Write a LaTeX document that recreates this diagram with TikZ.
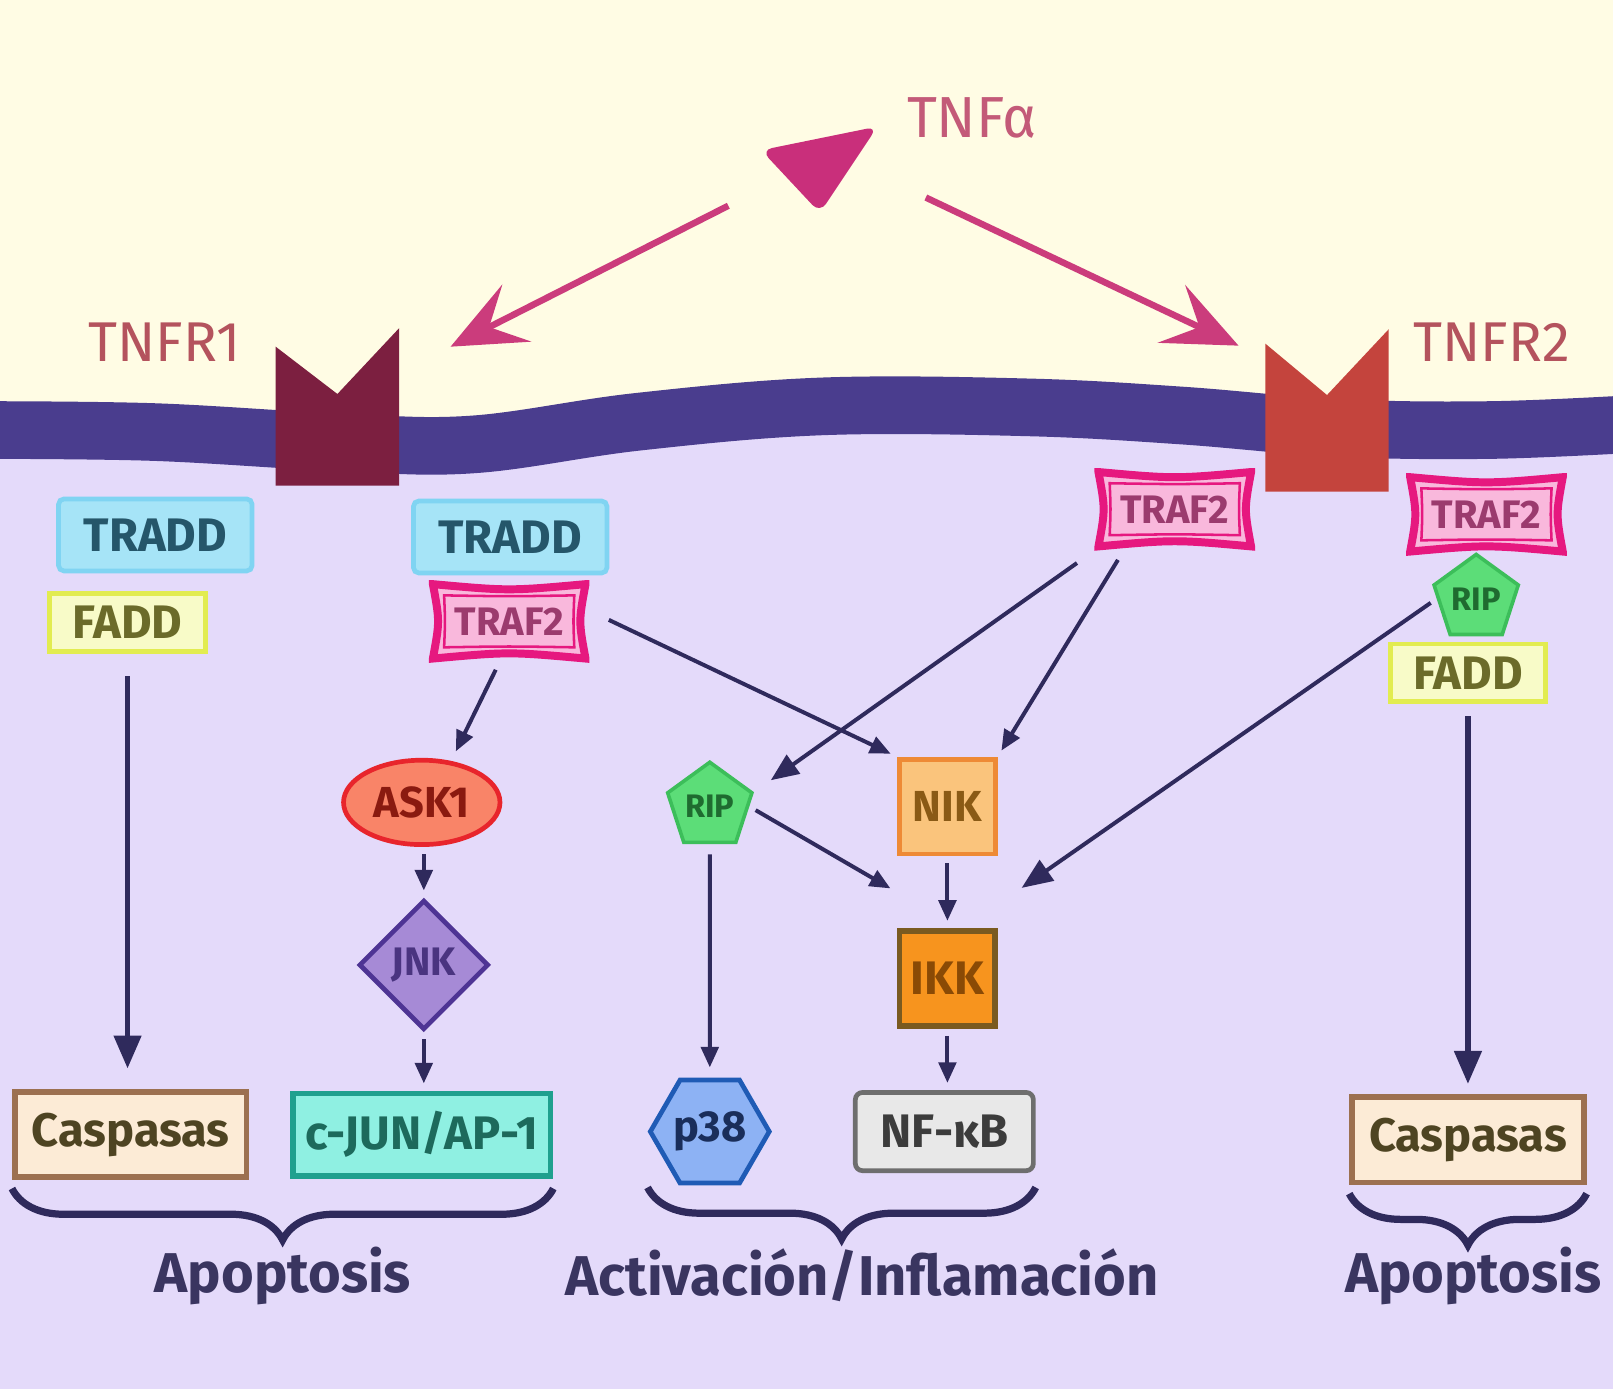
\documentclass[tikz,border=0pt]{standalone}
\usepackage{fontspec}
\setmainfont{Fira Sans}
\usetikzlibrary{arrows.meta,shapes.geometric,decorations.pathreplacing,calc}

% Colours
\definecolor{cream}{HTML}{FFFCE4}
\definecolor{lavender}{HTML}{E4DAFA}
\definecolor{membrane}{HTML}{4A3D8E}
\definecolor{linecol}{HTML}{2F2A5C}
\definecolor{pinkarrow}{HTML}{CB3C7C}
\definecolor{ligand}{HTML}{C92F7B}
\definecolor{recepA}{HTML}{7C1F40}
\definecolor{recepB}{HTML}{C4443D}
\definecolor{recText}{HTML}{B4535D}
\definecolor{tnfText}{HTML}{C35A78}
\definecolor{fateText}{HTML}{3A3560}
\definecolor{traddFill}{HTML}{A6E4F7}
\definecolor{traddLine}{HTML}{80D4F2}
\definecolor{traddText}{HTML}{25566A}
\definecolor{faddFill}{HTML}{F8FBC8}
\definecolor{faddLine}{HTML}{E2EC50}
\definecolor{faddText}{HTML}{6B6B2A}
\definecolor{trafFill}{HTML}{F9B8DC}
\definecolor{trafLine}{HTML}{E6187F}
\definecolor{trafText}{HTML}{9B3B6E}
\definecolor{ripFill}{HTML}{5CDD78}
\definecolor{ripLine}{HTML}{3CBE5A}
\definecolor{ripText}{HTML}{1F6B30}
\definecolor{askFill}{HTML}{F98468}
\definecolor{askLine}{HTML}{E8252C}
\definecolor{askText}{HTML}{8A1A10}
\definecolor{jnkFill}{HTML}{A68AD6}
\definecolor{jnkLine}{HTML}{4E3494}
\definecolor{jnkText}{HTML}{4A3480}
\definecolor{nikFill}{HTML}{FAC47C}
\definecolor{nikLine}{HTML}{EE8A35}
\definecolor{nikText}{HTML}{8A5A15}
\definecolor{ikkFill}{HTML}{F7941E}
\definecolor{ikkLine}{HTML}{7A5A20}
\definecolor{ikkText}{HTML}{8A4A05}
\definecolor{caspFill}{HTML}{FCEBD6}
\definecolor{caspLine}{HTML}{9C7050}
\definecolor{caspText}{HTML}{4E4422}
\definecolor{cjunFill}{HTML}{8FF0E2}
\definecolor{cjunLine}{HTML}{1FA08E}
\definecolor{cjunText}{HTML}{1D6A5C}
\definecolor{pFill}{HTML}{8DB2F4}
\definecolor{pLine}{HTML}{1F5BB5}
\definecolor{pText}{HTML}{1A2E5A}
\definecolor{nfFill}{HTML}{E8E8E8}
\definecolor{nfLine}{HTML}{6E6E6E}
\definecolor{nfText}{HTML}{3C3C3C}

\tikzset{
  prot/.style={draw, line width=1.3pt, inner sep=0pt,
    font=\bfseries\fontsize{13}{13}\selectfont},
  tradd/.style={prot, rectangle, rounded corners=1.5pt, fill=traddFill,
    draw=traddLine, text=traddText, minimum width=1.88cm, minimum height=0.70cm},
  fadd/.style={prot, rectangle, fill=faddFill, draw=faddLine, text=faddText,
    minimum width=1.51cm, minimum height=0.56cm},
  traf/.style={rectangle, inner sep=0pt, minimum width=1.56cm, minimum height=0.80cm,
    text=trafText, font=\bfseries\fontsize{11}{11}\selectfont,
    path picture={
      \path (path picture bounding box.north west) coordinate (q1)
            (path picture bounding box.north east) coordinate (q2)
            (path picture bounding box.south east) coordinate (q3)
            (path picture bounding box.south west) coordinate (q4);
      \draw[fill=trafFill, draw=trafLine, line width=2.2pt]
        ($(q1)+(1.1pt,-1.1pt)$) .. controls ($(q1)!.5!(q2)+(0,-3pt)$) .. ($(q2)+(-1.1pt,-1.1pt)$)
        .. controls ($(q2)!.5!(q3)+(-3pt,0)$) .. ($(q3)+(-1.1pt,1.1pt)$)
        .. controls ($(q3)!.5!(q4)+(0,3pt)$) .. ($(q4)+(1.1pt,1.1pt)$)
        .. controls ($(q4)!.5!(q1)+(3pt,0)$) .. ($(q1)+(1.1pt,-1.1pt)$) -- cycle;
      \draw[draw=trafLine, line width=0.7pt]
        ($(q1)+(4.2pt,-4.2pt)$) .. controls ($(q1)!.5!(q2)+(0,-4.5pt)$) .. ($(q2)+(-4.2pt,-4.2pt)$)
        .. controls ($(q2)!.5!(q3)+(-4.5pt,0)$) .. ($(q3)+(-4.2pt,4.2pt)$)
        .. controls ($(q3)!.5!(q4)+(0,4.5pt)$) .. ($(q4)+(4.2pt,4.2pt)$)
        .. controls ($(q4)!.5!(q1)+(4.5pt,0)$) .. ($(q1)+(4.2pt,-4.2pt)$) -- cycle;
    }},
  rip/.style={prot, regular polygon, regular polygon sides=5, minimum size=0.86cm,
    fill=ripFill, draw=ripLine, text=ripText, line width=1pt,
    font=\bfseries\fontsize{9}{9}\selectfont},
  ask/.style={prot, ellipse, minimum width=1.52cm, minimum height=0.82cm,
    fill=askFill, draw=askLine, text=askText, font=\bfseries\fontsize{12}{12}\selectfont},
  jnk/.style={prot, diamond, aspect=1, minimum width=1.26cm, minimum height=1.26cm,
    fill=jnkFill, draw=jnkLine, text=jnkText, font=\bfseries\fontsize{11}{11}\selectfont},
  nik/.style={prot, rectangle, minimum width=0.93cm, minimum height=0.92cm,
    fill=nikFill, draw=nikLine, text=nikText, font=\bfseries\fontsize{12}{12}\selectfont},
  ikk/.style={prot, rectangle, minimum width=0.93cm, minimum height=0.92cm,
    fill=ikkFill, draw=ikkLine, text=ikkText, line width=1.6pt},
  casp/.style={prot, rectangle, minimum width=2.25cm, minimum height=0.83cm,
    fill=caspFill, draw=caspLine, text=caspText, line width=1.6pt},
  cjun/.style={prot, rectangle, minimum width=2.50cm, minimum height=0.80cm,
    fill=cjunFill, draw=cjunLine, text=cjunText, line width=1.6pt},
  pthree/.style={prot, regular polygon, regular polygon sides=6, minimum size=1.14cm,
    fill=pFill, draw=pLine, text=pText, font=\bfseries\fontsize{12}{12}\selectfont},
  nfkb/.style={prot, rectangle, rounded corners=2pt, minimum width=1.73cm,
    minimum height=0.76cm, fill=nfFill, draw=nfLine, text=nfText},
  sig/.style={draw=linecol, line width=1.1pt, -{Triangle[length=0.2cm,width=0.17cm]},
    shorten <=2pt, shorten >=2pt},
  bigsig/.style={sig, line width=1.5pt, -{Triangle[length=0.32cm,width=0.26cm]}},
  bind/.style={draw=pinkarrow, line width=1.8pt,
    -{Stealth[length=0.72cm,width=0.62cm,inset=0.3cm]}},
  group/.style={draw=linecol, line width=2pt, decorate,
    decoration={brace, mirror, amplitude=0.5cm}},
  fate/.style={text=fateText, font=\bfseries\fontsize{15.5}{16}\selectfont},
  reclabel/.style={text=recText, font=\fontsize{15.5}{16}\selectfont}
}

\begin{document}
\begin{tikzpicture}[x=0.01cm, y=-0.01cm]

  \useasboundingbox (0,0) rectangle (1568,1350);

  % Background: outside and inside the cell
  \fill[lavender] (0,0) rectangle (1568,1350);
  \fill[cream] (-20,-20) -- (1590,-20) -- (1590,412)
    -- plot[smooth, tension=0.6] coordinates {(1590,412) (1450,418) (1300,416)
       (1150,404) (1000,396) (800,395) (620,410) (460,432) (330,430) (150,420) (-20,418)}
    -- cycle;

  % Draw the membrane
  \draw[membrane, line width=0.56cm] plot[smooth, tension=0.6] coordinates {(-20,418)
    (150,420) (330,430) (460,432) (620,410) (800,395) (1000,396) (1150,404)
    (1300,416) (1450,418) (1590,412)};

  % Receptors
  \fill[recepA] (268,337) -- (328,383) -- (388,319) -- (388,472) -- (268,472) -- cycle;
  \fill[recepB] (1230,334) -- (1290,384) -- (1350,320) -- (1350,478) -- (1230,478) -- cycle;
  \node[reclabel] (tnfr1) at (160,333) {TNFR1};
  \node[reclabel] (tnfr2) at (1450,333) {TNFR2};

  % Ligand
  \fill[ligand, rounded corners=3pt] (740,146) -- (853,123) -- (797,207) -- cycle;
  \node[text=tnfText, font=\fontsize{16}{16}\selectfont] (tnf) at (945,115) {TNFα};
  \coordinate (tnfL) at (708,200);
  \coordinate (tnfR) at (900,192);
  \coordinate (bindA) at (438,337);
  \coordinate (bindB) at (1204,336);
  \draw[bind] (tnfL) -- (bindA);
  \draw[bind] (tnfR) -- (bindB);

  % Adaptors under the membrane
  \node[tradd] (tradd1) at (151,520) {TRADD};
  \node[fadd]  (fadd1)  at (124,605) {FADD};
  \node[tradd] (tradd2) at (496,522) {TRADD};
  \node[traf]  (traf1)  at (495,604) {TRAF2};
  \node[traf]  (traf2)  at (1142,495) {TRAF2};
  \node[traf]  (traf3)  at (1445,500) {TRAF2};
  \node[rip]   (ripr)   at (1435,582) {RIP};
  \node[fadd]  (fadd2)  at (1427,654) {FADD};

  % Kinases
  \node[ask]  (ask1) at (410,780) {ASK1};
  \node[jnk]  (jnk)  at (412,938) {JNK};
  \node[rip]  (ripm) at (690,784) {RIP};
  \node[nik]  (nik)  at (921,784) {NIK};
  \node[ikk]  (ikk)  at (921,951) {IKK};

  % Effectors
  \node[casp]   (casp1) at (127,1103) {Caspasas};
  \node[cjun]   (cjun)  at (410,1103) {c-JUN/AP-1};
  \node[pthree] (p38)   at (690,1100) {p38};
  \node[nfkb]   (nfkb)  at (918,1100) {NF-κB};
  \node[casp]   (casp2) at (1427,1108) {Caspasas};

  % Signalling arrows
  \draw[bigsig, shorten <=0.22cm, shorten >=0.2cm] (fadd1.south) -- (fadd1.south |- casp1.north);
  \draw[sig] ([xshift=-0.1cm]traf1.south) -- ([xshift=0.3cm]ask1.north);
  \draw[sig] (jnk.north |- ask1.south) -- (jnk.north);
  \draw[sig] (jnk.south) -- (jnk.south |- cjun.north);
  \draw[sig, shorten <=0.2cm] ([yshift=0.1cm]traf1.east) -- (nik.north west);
  \draw[sig, -{Triangle[length=0.27cm,width=0.22cm]}, shorten <=0.2cm, shorten >=0.2cm]
    (traf2.south west) -- (ripm.corner 5);
  \draw[sig, shorten <=0.1cm] ([xshift=-0.5cm]traf2.south) -- (nik.north east);
  \draw[sig, -{Triangle[length=0.3cm,width=0.24cm]}]
    (ripr.west) -- ([shift={(0.17cm,0.35cm)}]ikk.north east);
  \draw[sig] (ripm.east) -- ([yshift=0.35cm]ikk.north west);
  \draw[sig] (nik.south) -- (ikk.north);
  \draw[sig] (ikk.south) -- (nfkb.north -| ikk.south);
  \draw[sig, shorten <=0.1cm, shorten >=0.1cm] (ripm.south) -- (p38.north);
  \draw[bigsig, shorten <=0.12cm, shorten >=0.1cm] (fadd2.south) -- (fadd2.south |- casp2.north);

  % Braces and outcomes
  \draw[group] ($(casp1.south west)+(0,-0.08cm)$) -- ($(casp1.south west -| cjun.east)+(0,-0.08cm)$);
  \draw[group] ($(p38.west |- nfkb.south)+(0,-0.14cm)$) -- ($(nfkb.south east)+(0,-0.14cm)$);
  \draw[group] ($(casp2.south west)+(0,-0.08cm)$) -- ($(casp2.south east)+(0,-0.08cm)$);
  \node[fate] (apo1) at (275,1240) {Apoptosis};
  \node[fate] (infl) at (838,1240) {Activación/Inflamación};
  \node[fate] (apo2) at (1432,1240) {Apoptosis};

\end{tikzpicture}
\end{document}
